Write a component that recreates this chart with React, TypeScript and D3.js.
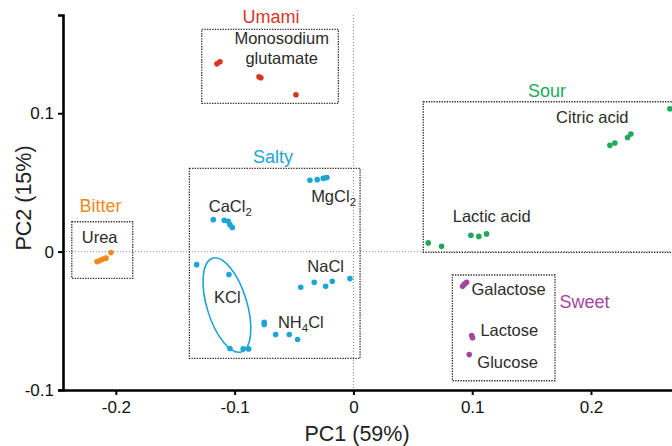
import React, { useEffect, useRef } from "react";
import * as d3 from "d3";

const WIDTH = 672;
const HEIGHT = 446;
const FONT = '"Liberation Sans", Arial, Helvetica, sans-serif';

// Taste categories and their colours
const categories = ["Umami", "Bitter", "Salty", "Sour", "Sweet"];
const categoryColors = ["#d8361f", "#f08a1c", "#1ea4d6", "#1ea85a", "#a3479d"];

// PCA scores [PC1, PC2] per compound replicate
const glutamateScores = [[-0.1149, 0.1357], [-0.1124, 0.1372], [-0.0795, 0.1264], [-0.0779, 0.1256], [-0.0484, 0.1134]];
const ureaScores = [[-0.2159, -0.0072], [-0.2134, -0.0065], [-0.2109, -0.0054], [-0.2083, -0.0047], [-0.2041, -0.0007]];
const mgcl2Scores = [[-0.0366, 0.0515], [-0.0305, 0.052], [-0.0254, 0.0529], [-0.0234, 0.0534], [-0.0223, 0.0536]];
const cacl2Scores = [[-0.118, 0.0231], [-0.1088, 0.0226], [-0.1054, 0.0219], [-0.104, 0.0195], [-0.102, 0.0175]];
const kclScores = [[-0.132, -0.0094], [-0.1048, -0.0166], [-0.104, -0.07], [-0.0928, -0.0703], [-0.0882, -0.0703]];
const naclScores = [[-0.0444, -0.0258], [-0.033, -0.0222], [-0.0234, -0.0251], [-0.0178, -0.0214], [-0.0029, -0.0195]];
const nh4clScores = [[-0.0751, -0.051], [-0.0751, -0.0527], [-0.0655, -0.0599], [-0.054, -0.0599], [-0.047, -0.0635]];
const citricScores = [[0.2159, 0.0768], [0.2201, 0.0785], [0.2308, 0.0825], [0.2336, 0.085], [0.2664, 0.1032]];
const lacticScores = [[0.063, 0.0063], [0.0742, 0.0038], [0.0989, 0.0118], [0.1056, 0.011], [0.1121, 0.0128]];
const galactoseScores = [[0.0919, -0.0251], [0.0934, -0.0235], [0.0953, -0.0222]];
const lactoseScores = [[0.0995, -0.0606], [0.1003, -0.0623]];
const glucoseScores = [[0.0975, -0.0744]];

const compoundNames = [
  "Monosodium glutamate", "Urea", "MgCl2", "CaCl2", "KCl", "NaCl", "NH4Cl",
  "Citric acid", "Lactic acid", "Galactose", "Lactose", "Glucose",
];
const compoundCategory = [
  "Umami", "Bitter", "Salty", "Salty", "Salty", "Salty", "Salty",
  "Sour", "Sour", "Sweet", "Sweet", "Sweet",
];
const compoundScores = [
  glutamateScores, ureaScores, mgcl2Scores, cacl2Scores, kclScores, naclScores, nh4clScores,
  citricScores, lacticScores, galactoseScores, lactoseScores, glucoseScores,
];

// Axis ticks
const xTicks = [-0.2, -0.1, 0, 0.1, 0.2];
const yTicks = [-0.1, 0, 0.1];

// Annotation layout (PC units): label anchors and group frames
const compoundLabelAt: Record<string, { x: number; y: number; anchor: string; lines?: string[] }> = {
  "Monosodium glutamate": { x: -0.0604, y: 0.1500, anchor: "middle", lines: ["Monosodium", "glutamate"] },
  Urea: { x: -0.2287, y: 0.006, anchor: "start" },
  MgCl2: { x: -0.0356, y: 0.0361, anchor: "start" },
  CaCl2: { x: -0.1218, y: 0.0288, anchor: "start" },
  KCl: { x: -0.1174, y: -0.0374, anchor: "start" },
  NaCl: { x: -0.0388, y: -0.0145, anchor: "start" },
  NH4Cl: { x: -0.0636, y: -0.0554, anchor: "start" },
  "Citric acid": { x: 0.1706, y: 0.0931, anchor: "start" },
  "Lactic acid": { x: 0.0836, y: 0.0216, anchor: "start" },
  Galactose: { x: 0.0994, y: -0.0314, anchor: "start" },
  Lactose: { x: 0.1069, y: -0.061, anchor: "start" },
  Glucose: { x: 0.1043, y: -0.0843, anchor: "start" },
};
const categoryLabelAt: Record<string, { x: number; y: number; anchor: string }> = {
  Umami: { x: -0.0694, y: 0.1652, anchor: "middle" },
  Bitter: { x: -0.2129, y: 0.0288, anchor: "middle" },
  Salty: { x: -0.0677, y: 0.0642, anchor: "middle" },
  Sour: { x: 0.163, y: 0.1119, anchor: "middle" },
  Sweet: { x: 0.1735, y: -0.0408, anchor: "start" },
};
const groupFrames: Record<string, [number, number, number, number]> = {
  // [x0, x1, y0, y1]
  Umami: [-0.1277, -0.0127, 0.1072, 0.1606],
  Bitter: [-0.2371, -0.1858, -0.0193, 0.0216],
  Salty: [-0.1381, 0.0056, -0.0771, 0.0602],
  Sour: [0.0588, 0.3, -0.0005, 0.1083],
  Sweet: [0.0833, 0.1697, -0.0933, -0.0169],
};
// KCl confidence ellipse: centre in PC units, radii in px, tilt in degrees
const kclEllipse = { cx: -0.1065, cy: -0.0386, rMinor: 20, rMajor: 49, tilt: -17 };

function addLabel(sel: d3.Selection<SVGTextElement, unknown, null, undefined>, name: string) {
  // digits following letters become subscripts (CaCl2, NH4Cl)
  const parts = name.split(/(\d)/).filter((p) => p.length > 0);
  let sub = false;
  parts.forEach((p) => {
    if (/^\d$/.test(p)) {
      sel.append("tspan").attr("font-size", 11.5).attr("dy", 4).text(p);
      sub = true;
    } else {
      sel.append("tspan").attr("dy", sub ? -4 : 0).text(p);
      sub = false;
    }
  });
}

export default function App() {
  const ref = useRef<SVGSVGElement | null>(null);

  useEffect(() => {
    const svg = d3.select(ref.current);
    svg.selectAll("*").remove();

    const x = d3.scaleLinear().domain([-0.2445, 0.2682]).range([63, WIDTH]);
    const y = d3.scaleLinear().domain([-0.1, 0.171]).range([390, 15]);
    const color = d3.scaleOrdinal<string, string>().domain(categories).range(categoryColors);

    // zero reference lines
    svg.append("line")
      .attr("x1", x(0)).attr("x2", x(0)).attr("y1", y(0.171)).attr("y2", y(-0.1))
      .attr("stroke", "#8a8a8a").attr("stroke-width", 1).attr("stroke-dasharray", "1,2");
    svg.append("line")
      .attr("x1", x(-0.2445)).attr("x2", WIDTH).attr("y1", y(0)).attr("y2", y(0))
      .attr("stroke", "#8a8a8a").attr("stroke-width", 1).attr("stroke-dasharray", "1,2");

    // group frames
    categories.forEach((c) => {
      const [x0, x1, y0, y1] = groupFrames[c];
      svg.append("rect")
        .attr("x", x(x0)).attr("y", y(y1))
        .attr("width", x(x1) - x(x0)).attr("height", y(y0) - y(y1))
        .attr("fill", "none").attr("stroke", "#333").attr("stroke-width", 1.3)
        .attr("stroke-dasharray", "1.4,1.2");
    });

    // KCl ellipse
    svg.append("ellipse")
      .attr("transform", `translate(${x(kclEllipse.cx)},${y(kclEllipse.cy)}) rotate(${kclEllipse.tilt})`)
      .attr("rx", kclEllipse.rMinor).attr("ry", kclEllipse.rMajor)
      .attr("fill", "none").attr("stroke", color("Salty")).attr("stroke-width", 1.6);

    // points
    compoundNames.forEach((name, i) => {
      svg.append("g").selectAll("circle")
        .data(compoundScores[i])
        .join("circle")
        .attr("cx", (d) => x(d[0]))
        .attr("cy", (d) => y(d[1]))
        .attr("r", 2.8)
        .attr("fill", color(compoundCategory[i]));
    });

    // compound labels
    compoundNames.forEach((name) => {
      const l = compoundLabelAt[name];
      const lines = l.lines ?? [name];
      lines.forEach((line, k) => {
        const t = svg.append("text")
          .attr("x", x(l.x)).attr("y", y(l.y) + k * 19.5)
          .attr("text-anchor", l.anchor)
          .attr("font-family", FONT).attr("font-size", 16.5).attr("fill", "#2b2b2b");
        addLabel(t, line);
      });
    });

    // category labels
    categories.forEach((c) => {
      const l = categoryLabelAt[c];
      svg.append("text")
        .attr("x", x(l.x)).attr("y", y(l.y))
        .attr("text-anchor", l.anchor)
        .attr("font-family", FONT).attr("font-size", 18)
        .attr("fill", color(c)).text(c);
    });

    // axes
    const fmt = (d: d3.NumberValue) => String(d);
    const gx = svg.append("g").attr("transform", `translate(0,${y(-0.1)})`)
      .call(d3.axisBottom(x).tickValues(xTicks).tickFormat(fmt).tickSize(5).tickSizeOuter(0).tickPadding(6));
    const gy = svg.append("g").attr("transform", `translate(${x(-0.2445)},0)`)
      .call(d3.axisLeft(y).tickValues(yTicks).tickFormat(fmt).tickSize(5).tickSizeOuter(5).tickPadding(4));
    [gx, gy].forEach((g) => {
      g.select(".domain").attr("stroke", "#000").attr("stroke-width", 2.6);
      g.selectAll(".tick line").attr("stroke", "#000").attr("stroke-width", 2);
      g.selectAll(".tick text").attr("font-family", FONT).attr("font-size", 17).attr("fill", "#111");
    });

    svg.append("text")
      .attr("x", 357).attr("y", 441)
      .attr("text-anchor", "middle").attr("font-family", FONT).attr("font-size", 21.5)
      .attr("fill", "#222").text("PC1 (59%)");
    svg.append("text")
      .attr("transform", `translate(31,${198}) rotate(-90)`)
      .attr("text-anchor", "middle").attr("font-family", FONT).attr("font-size", 21.5)
      .attr("fill", "#222").text("PC2 (15%)");
  }, []);

  return (
    <svg
      ref={ref}
      width={WIDTH}
      height={HEIGHT}
      style={{ position: "absolute", left: 0, top: 0, background: "#fff" }}
    />
  );
}
